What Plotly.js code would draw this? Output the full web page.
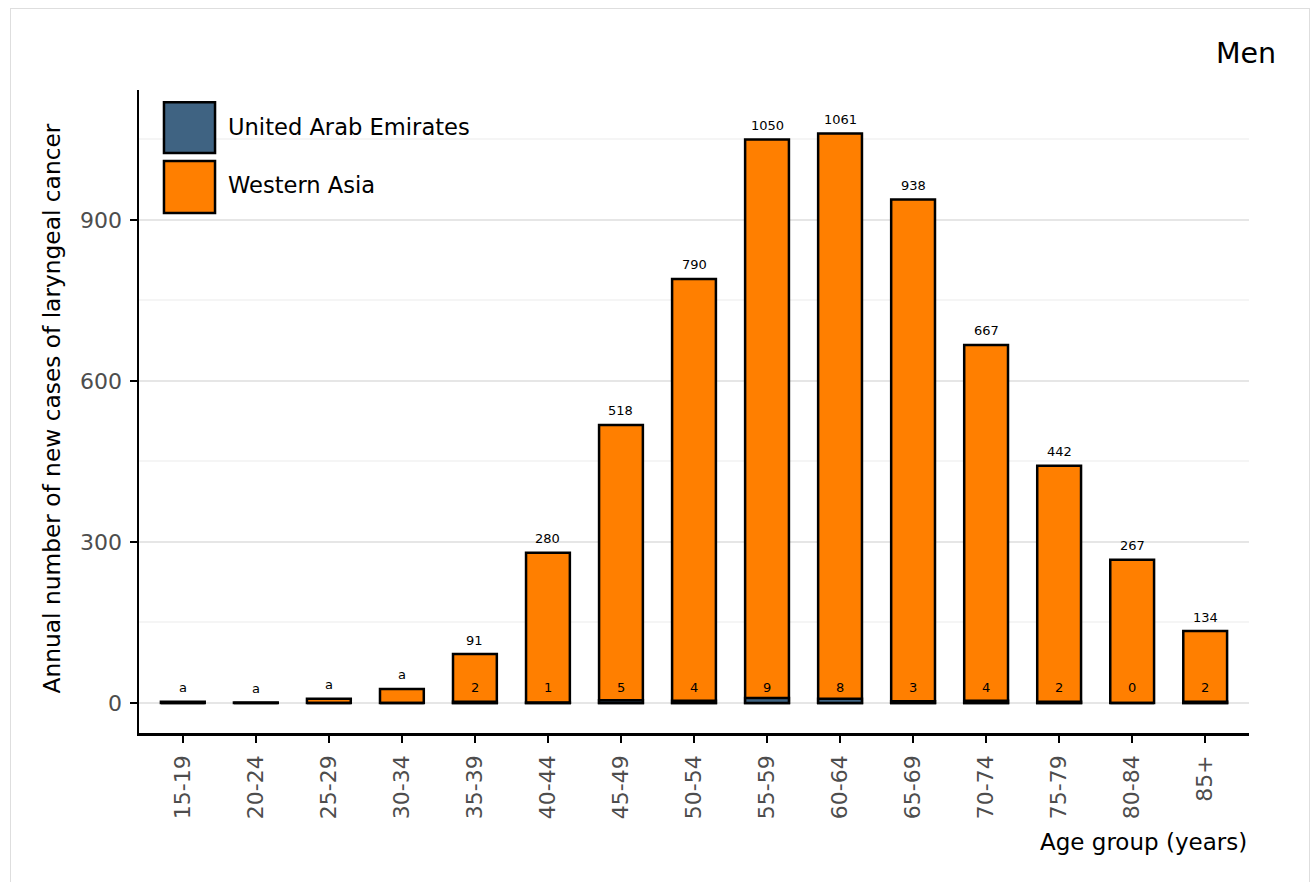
<!DOCTYPE html>
<html>
<head>
<meta charset="utf-8">
<script src="https://cdn.plot.ly/plotly-3.0.1.min.js"></script>
<style>
  html, body { margin: 0; padding: 0; background: #ffffff; }
  #frame { position: absolute; left: 10px; top: 8px; width: 1300px; height: 900px; border: 1px solid #dedede; box-sizing: border-box; }
  #chart { position: absolute; left: 0; top: 0; width: 1312px; height: 882px; }
</style>
</head>
<body>
<div id="frame"></div>
<div id="chart"></div>
<script>
// ---- data ----
const ageGroups = ["15-19","20-24","25-29","30-34","35-39","40-44","45-49","50-54","55-59","60-64","65-69","70-74","75-79","80-84","85+"];
const westernAsia = [2, 1, 8, 26, 91, 280, 518, 790, 1050, 1061, 938, 667, 442, 267, 134];
const uae = [0, 0, 0, 0, 2, 1, 5, 4, 9, 8, 3, 4, 2, 0, 2];
const westernAsiaLabels = ["a","a","a","a","91","280","518","790","1050","1061","938","667","442","267","134"];
const uaeLabels = ["","","","","2","1","5","4","9","8","3","4","2","0","2"];
const yTicks = [0, 300, 600, 900];
const seriesNames = ["United Arab Emirates", "Western Asia"];

const FONT = "DejaVu Sans, Verdana, sans-serif";
const colWA = "#ff7f00";
const colUAE = "#3f6382";

const traces = [
  {
    type: "bar", name: seriesNames[1], x: ageGroups, y: westernAsia,
    width: 0.6, marker: { color: colWA, line: { color: "#000", width: 2.5 } },
    hoverinfo: "x+y", showlegend: false
  },
  {
    type: "bar", name: seriesNames[0], x: ageGroups, y: uae,
    width: 0.6, marker: { color: colUAE, line: { color: "#000", width: 2.5 } },
    hoverinfo: "x+y", showlegend: false
  }
];

const annotations = [];
ageGroups.forEach((g, i) => {
  annotations.push({ x: g, y: westernAsia[i], xref: "x", yref: "y", text: westernAsiaLabels[i],
    showarrow: false, yshift: 14, yanchor: "middle", font: { family: FONT, size: 13, color: "#000" } });
  if (uaeLabels[i] !== "") {
    annotations.push({ x: g, y: 0, xref: "x", yref: "y", text: uaeLabels[i],
      showarrow: false, yshift: 15, yanchor: "middle", font: { family: FONT, size: 13, color: "#000" } });
  }
});
// titles
annotations.push({ x: 1.026, y: 1.0575, xref: "paper", yref: "paper", text: "Men", showarrow: false,
  xanchor: "right", yanchor: "middle", font: { family: FONT, size: 28.5, color: "#000" } });
annotations.push({ x: 1.0, y: -0.1695, xref: "paper", yref: "paper", text: "Age group (years)", showarrow: false,
  xanchor: "right", yanchor: "middle", font: { family: FONT, size: 23, color: "#000" } });
annotations.push({ x: -0.0784, y: 0.5047, xref: "paper", yref: "paper", text: "Annual number of new cases of laryngeal cancer",
  showarrow: false, textangle: -90, xanchor: "center", yanchor: "middle", font: { family: FONT, size: 23.3, color: "#000" } });
// legend labels
annotations.push({ x: 0.0784, y: 0.9425, xref: "paper", yref: "paper", text: seriesNames[0], showarrow: false,
  xanchor: "left", yanchor: "middle", font: { family: FONT, size: 22.6, color: "#000" } });
annotations.push({ x: 0.0784, y: 0.852, xref: "paper", yref: "paper", text: seriesNames[1], showarrow: false,
  xanchor: "left", yanchor: "middle", font: { family: FONT, size: 22.6, color: "#000" } });

const shapes = [
  { type: "rect", xref: "paper", yref: "paper", x0: 0.0225, x1: 0.0685, y0: 0.902, y1: 0.981,
    fillcolor: colUAE, line: { color: "#000", width: 2.5 } },
  { type: "rect", xref: "paper", yref: "paper", x0: 0.0225, x1: 0.0685, y0: 0.8087, y1: 0.8896,
    fillcolor: colWA, line: { color: "#000", width: 2.5 } }
];

const layout = {
  width: 1312, height: 882,
  margin: { l: 139, r: 63, t: 90, b: 149, pad: 0 },
  paper_bgcolor: "rgba(0,0,0,0)", plot_bgcolor: "rgba(0,0,0,0)",
  barmode: "overlay",
  showlegend: false,
  font: { family: FONT, color: "#000" },
  xaxis: {
    type: "category", range: [-0.6, 14.6], tickangle: -90,
    showline: true, linecolor: "#000", linewidth: 2.5,
    ticks: "outside", ticklen: 7, tickwidth: 2.5, tickcolor: "#000",
    ticklabelstandoff: 4,
    tickfont: { family: FONT, size: 22, color: "#4d4d4d" },
    showgrid: false, zeroline: false, automargin: false
  },
  yaxis: {
    range: [-56, 1142], tickvals: yTicks, ticktext: yTicks.map(String),
    showline: true, linecolor: "#000", linewidth: 2.5,
    ticks: "outside", ticklen: 7, tickwidth: 2.5, tickcolor: "#000",
    ticklabelstandoff: 3,
    tickfont: { family: FONT, size: 22, color: "#4d4d4d" },
    showgrid: true, gridcolor: "#e6e6e6", gridwidth: 2,
    minor: { tickvals: [150, 450, 750, 1050], showgrid: true, gridcolor: "#f5f5f5", gridwidth: 2, ticks: "" },
    zeroline: false, automargin: false
  },
  annotations: annotations,
  shapes: shapes
};

Plotly.newPlot("chart", traces, layout, { displayModeBar: false, staticPlot: true });
</script>
</body>
</html>
